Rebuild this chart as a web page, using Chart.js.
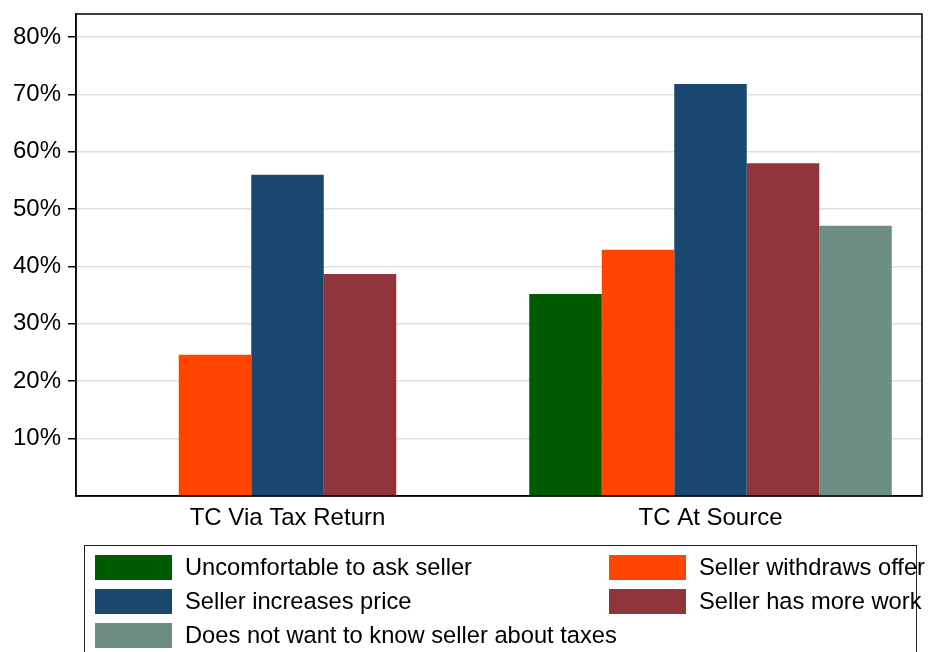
<!DOCTYPE html>
<html>
<head>
<meta charset="utf-8">
<script src="https://cdn.jsdelivr.net/npm/chart.js@4"></script>
<style>
  html, body { margin: 0; padding: 0; background: #fff; }
  #wrap { width: 933px; height: 652px; }
</style>
</head>
<body>
<div id="wrap"><canvas id="reasons_canvas" width="933" height="652"></canvas></div>
<script>
// data (percent)
var categories = ['TC Via Tax Return', 'TC At Source'];
var seriesNames = [
    'Uncomfortable to ask seller',
    'Seller withdraws offer',
    'Seller increases price',
    'Seller has more work',
    'Does not want to know seller about taxes'
];
var uncomfortable = [null, 35.2];
var withdraws = [24.6, 42.9];
var increasesPrice = [56.0, 71.8];
var moreWork = [38.7, 58.0];
var doesNotWant = [null, 47.1];
var yTicks = [10, 20, 30, 40, 50, 60, 70, 80];

var colors = ['#005a00', '#ff4500', '#1a476f', '#90353b', '#6e8e84'];
var allSeries = [uncomfortable, withdraws, increasesPrice, moreWork, doesNotWant];

var fontName = '"Liberation Sans", Arial, Helvetica, sans-serif';

var datasets = [];
for (let i = 0; i < allSeries.length; i++) {
    datasets.push({
        label: seriesNames[i],
        data: allSeries[i],
        backgroundColor: colors[i],
        borderWidth: 0,
        categoryPercentage: 0.857,
        barPercentage: 1.0
    });
}

// frame around plot + boxed two-column legend
var framePlugin = {
    id: 'frameAndLegend',
    afterDraw: function(chart) {
        const ctx = chart.ctx;
        const a = chart.chartArea;
        ctx.save();
        ctx.strokeStyle = '#000';
        ctx.lineWidth = 1.5;
        ctx.strokeRect(a.left, a.top, a.right - a.left, a.bottom - a.top);

        // legend box
        ctx.lineWidth = 1;
        ctx.strokeStyle = '#222';
        ctx.strokeRect(84.5, 545.5, 832, 130);

        ctx.font = '23.7px ' + fontName;
        ctx.textBaseline = 'middle';
        ctx.fillStyle = '#000';
        const ds = chart.data.datasets;
        for (let i = 0; i < ds.length; i++) {
            const col = i % 2;
            const row = Math.floor(i / 2);
            const x = col === 0 ? 95 : 609;
            const y = 555 + row * 34;
            ctx.fillStyle = ds[i].backgroundColor;
            ctx.fillRect(x, y, 77, 25);
            ctx.fillStyle = '#000';
            ctx.fillText(ds[i].label, x + 90, y + 13);
        }
        ctx.restore();
    }
};

const canvas = document.getElementById('reasons_canvas');
const reasonsChart = new Chart(canvas, {
    type: 'bar',
    data: {
        labels: categories,
        datasets: datasets
    },
    options: {
        responsive: false,
        animation: false,
        devicePixelRatio: 1,
        layout: {
            padding: { left: 0, right: 11, top: 14, bottom: 116 }
        },
        plugins: {
            legend: { display: false },
            tooltip: { enabled: false }
        },
        scales: {
            x: {
                grid: { display: false },
                border: { display: true, color: '#000', width: 1.5 },
                ticks: {
                    color: '#000',
                    padding: 0,
                    font: { family: fontName, size: 24 }
                },
                afterFit: function(scale) { scale.height = 40; }
            },
            y: {
                min: 0,
                max: 84,
                afterBuildTicks: function(axis) {
                    axis.ticks = yTicks.map(v => ({ value: v }));
                },
                grid: {
                    color: '#e0e0e0',
                    lineWidth: 1.5,
                    tickColor: '#000',
                    tickLength: 8
                },
                border: { display: true, color: '#000', width: 1.5 },
                ticks: {
                    color: '#000',
                    padding: 7,
                    font: { family: fontName, size: 24 },
                    callback: function(v) { return v + '%'; }
                },
                afterFit: function(scale) {
                    scale.width = 76;
                    scale.paddingTop = 0;
                    scale.paddingBottom = 0;
                }
            }
        }
    },
    plugins: [framePlugin]
});
</script>
</body>
</html>
